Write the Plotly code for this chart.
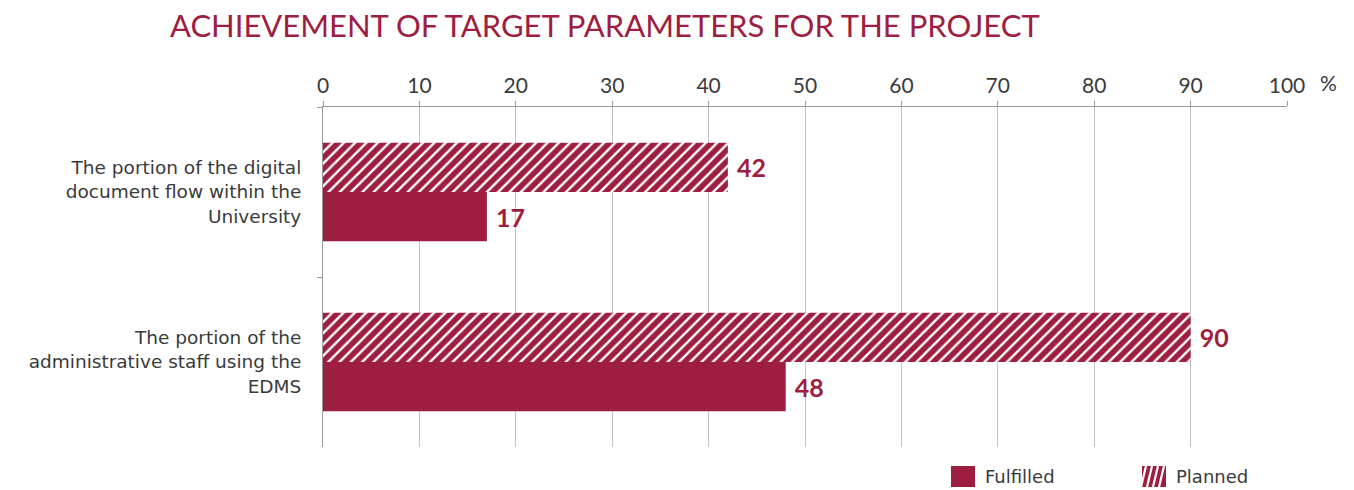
import plotly.graph_objects as go

categories = [
    "The portion of the digital<br>document flow within the<br>University",
    "The portion of the<br>administrative staff using the<br>EDMS",
]
planned = [42, 90]
fulfilled = [17, 48]
x_ticks = [0, 10, 20, 30, 40, 50, 60, 70, 80, 90, 100]

CRIMSON = "#9E1E41"
TEXT = "#3A3A3A"
GRID = "#C4C4C4"
AXIS = "#9A9A9A"
FONT = "Lato, 'DejaVu Sans', sans-serif"
LABEL_FONT = "'DejaVu Sans', sans-serif"

W, H = 1354, 490
L, R, T, B = 323, 67, 107, 43
PW, PH = W - L - R, H - T - B


def px_x(px):
    """Horizontal pixel position -> paper coordinate."""
    return (px - L) / PW


def px_y(py):
    """Vertical pixel position -> paper coordinate."""
    return (H - B - py) / PH


fig = go.Figure()

fig.add_trace(go.Bar(
    name="Planned",
    y=categories,
    x=planned,
    orientation="h",
    marker=dict(
        color=CRIMSON,
        line=dict(width=0),
        pattern=dict(shape="/", fgcolor="white", bgcolor=CRIMSON,
                     size=8, solidity=0.3, fillmode="replace"),
    ),
    texttemplate="<b> %{x}</b>",
    textposition="outside",
    textfont=dict(family=FONT, size=25, color=CRIMSON),
    cliponaxis=False,
    showlegend=False,
))

fig.add_trace(go.Bar(
    name="Fulfilled",
    y=categories,
    x=fulfilled,
    orientation="h",
    marker=dict(color=CRIMSON, line=dict(width=0)),
    texttemplate="<b> %{x}</b>",
    textposition="outside",
    textfont=dict(family=FONT, size=25, color=CRIMSON),
    cliponaxis=False,
    showlegend=False,
))

# Legend drawn as swatches + labels below the plot
shapes = []
# Fulfilled: solid square
shapes.append(dict(type="rect", xref="paper", yref="paper",
                   x0=px_x(951), x1=px_x(975), y0=px_y(487), y1=px_y(466),
                   fillcolor=CRIMSON, line=dict(width=0), layer="above"))
# Planned: hatched square
shapes.append(dict(type="rect", xref="paper", yref="paper",
                   x0=px_x(1142), x1=px_x(1166), y0=px_y(487), y1=px_y(466),
                   fillcolor=CRIMSON, line=dict(width=0), layer="above"))
for top_x in (1146, 1152, 1158, 1164):
    shapes.append(dict(type="line", xref="paper", yref="paper",
                       x0=px_x(top_x - 5), x1=px_x(top_x),
                       y0=px_y(487), y1=px_y(466),
                       line=dict(color="white", width=2.2), layer="above"))

annotations = [
    dict(text="%", xref="paper", yref="paper",
         x=px_x(1328), y=px_y(82), xanchor="center", yanchor="middle",
         showarrow=False, font=dict(family=FONT, size=21, color=TEXT)),
    dict(text="Fulfilled", xref="paper", yref="paper",
         x=px_x(983), y=px_y(477), xanchor="left", yanchor="middle",
         showarrow=False, font=dict(family=LABEL_FONT, size=18, color=TEXT)),
    dict(text="Planned", xref="paper", yref="paper",
         x=px_x(1174), y=px_y(477), xanchor="left", yanchor="middle",
         showarrow=False, font=dict(family=LABEL_FONT, size=18, color=TEXT)),
]

fig.update_layout(
    width=W,
    height=H,
    margin=dict(l=L, r=R, t=T, b=B, autoexpand=False),
    paper_bgcolor="white",
    plot_bgcolor="white",
    barmode="group",
    bargap=0.42,
    bargroupgap=0,
    showlegend=False,
    font=dict(family=FONT, color=TEXT, size=17),
    title=dict(
        text="ACHIEVEMENT OF TARGET PARAMETERS FOR THE PROJECT",
        font=dict(family=FONT, size=31, color=CRIMSON),
        xref="container", x=170 / W, xanchor="left",
        yref="container", y=1 - 26 / H, yanchor="middle",
    ),
    xaxis=dict(
        side="top",
        range=[0, 100],
        tickvals=x_ticks,
        ticks="outside",
        ticklen=5,
        tickcolor=AXIS,
        showline=True,
        linecolor=AXIS,
        linewidth=1,
        showgrid=True,
        gridcolor=GRID,
        gridwidth=1,
        zeroline=False,
        tickfont=dict(family=FONT, size=21, color=TEXT),
    ),
    yaxis=dict(
        autorange="reversed",
        showline=True,
        linecolor=AXIS,
        linewidth=1,
        ticks="outside",
        tickson="boundaries",
        ticklen=5,
        tickcolor=AXIS,
        showgrid=False,
        tickfont=dict(family=LABEL_FONT, size=18.5, color=TEXT),
        ticklabelstandoff=17,
    ),
    shapes=shapes,
    annotations=annotations,
)

fig.write_html("out.html")
